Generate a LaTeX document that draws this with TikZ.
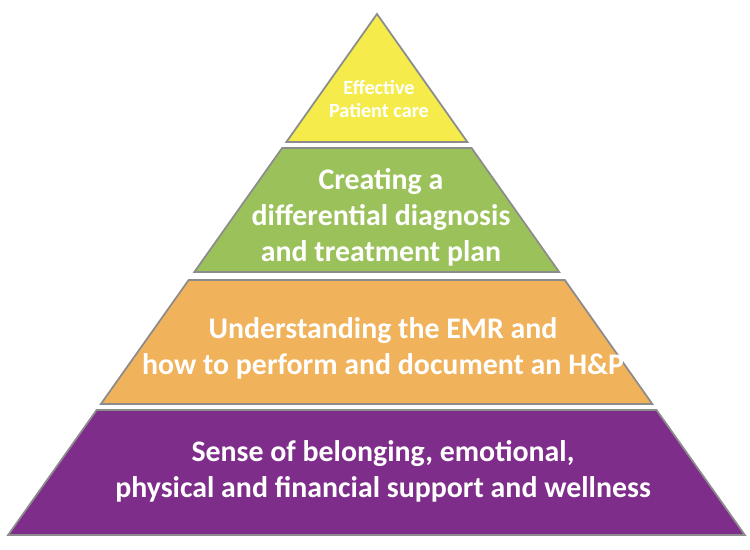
\documentclass[tikz,border=0pt]{standalone}
\usepackage{fontspec}
\setmainfont{Carlito}
\begin{document}
\begin{tikzpicture}[x=0.02cm,y=-0.02cm,
  layer/.style={draw=black!45,line width=1pt},
  label/.style={text=white,font=\bfseries\fontsize{17}{20.5}\selectfont,align=center},
  small/.style={label,font=\bfseries\fontsize{11.5}{13.5}\selectfont}]
\useasboundingbox (0,0) rectangle (750,550);
% pyramid edges: left x = 377-0.708(y-14), right x = 377+0.706(y-14)
\def\lx#1{377-0.708*(#1-14)}
\def\rx#1{377+0.706*(#1-14)}
% layers
\filldraw [layer,fill={rgb,255:red,245;green,236;blue,75}] (377,14) -- ({\rx{142}},142) -- ({\lx{142}},142) -- cycle;
\filldraw [layer,fill={rgb,255:red,155;green,194;blue,90}] ({\lx{148}},148) -- ({\rx{148}},148) -- ({\rx{272}},272) -- ({\lx{272}},272) -- cycle;
\filldraw [layer,fill={rgb,255:red,240;green,178;blue,90}] ({\lx{280}},280) -- ({\rx{280}},280) -- ({\rx{404}},404) -- ({\lx{404}},404) -- cycle;
\filldraw [layer,fill={rgb,255:red,127;green,45;blue,138}] ({\lx{410}},410) -- ({\rx{410}},410) -- ({\rx{535}},535) -- ({\lx{535}},535) -- cycle;
% texts
\node [small] (care) at (379,99) {Effective\\Patient care};
\node [label] (diag) at (381,217) {Creating a\\differential diagnosis\\and treatment plan};
\node [label] (emr) at (383,348) {Understanding the EMR and\\how to perform and document an H\&P};
\node [label] (well) at (383,471) {Sense of belonging, emotional,\\physical and financial support and wellness};
\end{tikzpicture}
\end{document}
